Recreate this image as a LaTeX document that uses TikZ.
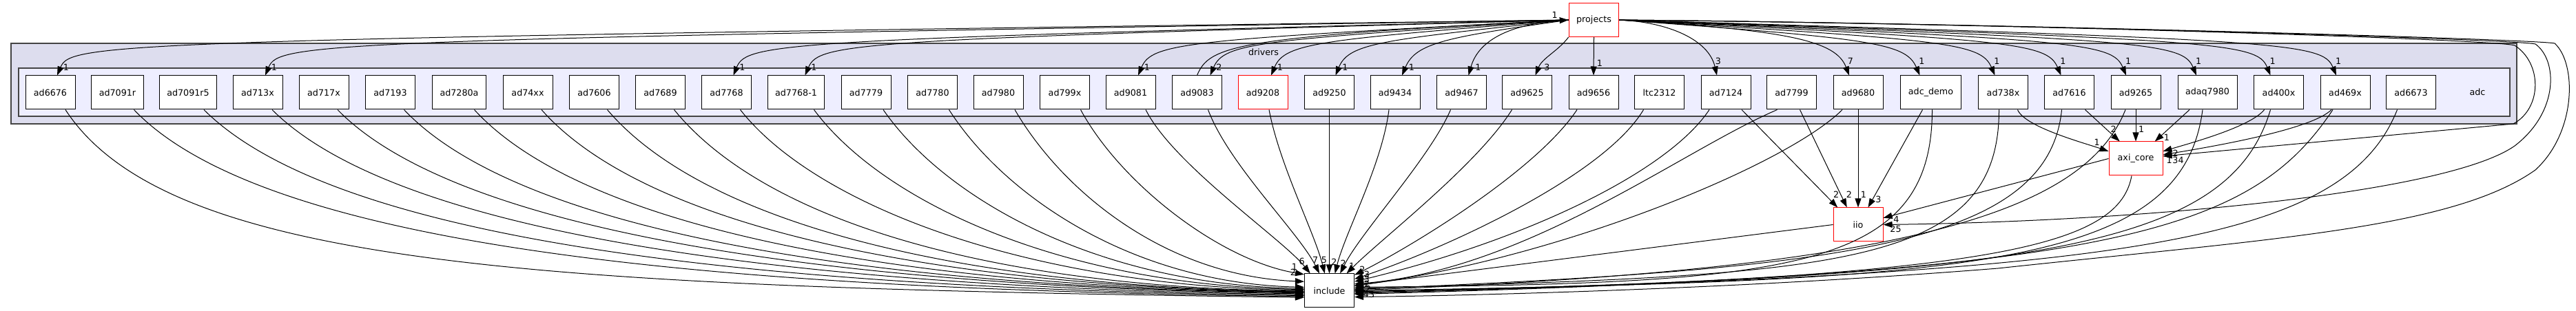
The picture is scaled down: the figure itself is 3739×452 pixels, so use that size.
\documentclass[tikz,border=0pt]{standalone}
\usepackage{fontspec}
\setmainfont{DejaVu Sans}
\usetikzlibrary{arrows.meta}
\definecolor{drvfill}{HTML}{DDDDEE}
\definecolor{adcfill}{HTML}{EEEEFF}
\definecolor{clborder}{HTML}{444444}

\begin{document}
\begin{tikzpicture}[x=1pt,y=1pt,
    dir/.style={draw=black,fill=white,line width=1pt,minimum width=72pt,minimum height=49pt,inner xsep=11pt,font=\fontsize{12.7}{15}\selectfont},
    reddir/.style={dir,draw=red},
    dep/.style={-{Triangle[length=13pt,width=9pt]},line width=1pt},
    lbl/.style={inner sep=0pt,font=\fontsize{12.7}{15}\selectfont}]
\useasboundingbox (0,0) rectangle (3739,452);

% 绘制目录框
\filldraw[fill=drvfill,draw=clborder,line width=1.6pt] (16,272) rectangle (3653,389);
\node[lbl] (drvlabel) at (1834,376) {drivers};
\filldraw[fill=adcfill,draw=clborder,line width=1.6pt] (27,283) rectangle (3643,353);
\node[lbl] (adclabel) at (3596,318) {adc};

% 子目录
\node[dir] (ad6676) at (73,317.5) {ad6676};
\node[dir] (ad7091r) at (170.5,317.5) {ad7091r};
\node[dir] (ad7091r5) at (273,317.5) {ad7091r5};
\node[dir] (ad713x) at (374,317.5) {ad713x};
\node[dir] (ad717x) at (470,317.5) {ad717x};
\node[dir] (ad7193) at (566.5,317.5) {ad7193};
\node[dir] (ad7280a) at (666.5,317.5) {ad7280a};
\node[dir] (ad74xx) at (766,317.5) {ad74xx};
\node[dir] (ad7606) at (862.5,317.5) {ad7606};
\node[dir] (ad7689) at (958.5,317.5) {ad7689};
\node[dir] (ad7768) at (1054.5,317.5) {ad7768};
\node[dir] (ad7768-1) at (1155.5,317.5) {ad7768-1};
\node[dir] (ad7779) at (1257,317.5) {ad7779};
\node[dir] (ad7780) at (1353.5,317.5) {ad7780};
\node[dir] (ad7980) at (1449,317.5) {ad7980};
\node[dir] (ad799x) at (1545.5,317.5) {ad799x};
\node[dir] (ad9081) at (1641,317.5) {ad9081};
\node[dir] (ad9083) at (1737.5,317.5) {ad9083};
\node[reddir] (ad9208) at (1833,317.5) {ad9208};
\node[dir] (ad9250) at (1929.5,317.5) {ad9250};
\node[dir] (ad9434) at (2025,317.5) {ad9434};
\node[dir] (ad9467) at (2121.5,317.5) {ad9467};
\node[dir] (ad9625) at (2216.5,317.5) {ad9625};
\node[dir] (ad9656) at (2313,317.5) {ad9656};
\node[dir] (ltc2312) at (2408.5,317.5) {ltc2312};
\node[dir] (ad7124) at (2505,317.5) {ad7124};
\node[dir] (ad7799) at (2600.5,317.5) {ad7799};
\node[dir] (ad9680) at (2697,317.5) {ad9680};
\node[dir] (adc_demo) at (2802.5,317.5) {adc\_demo};
\node[dir] (ad738x) at (2907.5,317.5) {ad738x};
\node[dir] (ad7616) at (3003.5,317.5) {ad7616};
\node[dir] (ad9265) at (3100,317.5) {ad9265};
\node[dir] (adaq7980) at (3204,317.5) {adaq7980};
\node[dir] (ad400x) at (3307.5,317.5) {ad400x};
\node[dir] (ad469x) at (3404,317.5) {ad469x};
\node[dir] (ad6673) at (3499.5,317.5) {ad6673};

% 外部目录
\node[reddir] (projects) at (2313.5,423) {projects};
\node[dir] (include) at (1929.5,29.5) {include};
\node[reddir] (iio) at (2697,125.5) {iio};
\node[reddir,minimum width=78pt] (axi_core) at (3100,221.5) {axi\_core};

% projects -> 子目录
\draw[dep] (projects.west) .. controls (153,394) and (103,390) .. ([xshift=10pt]ad6676.north) node[lbl,xshift=13pt,yshift=12pt] {1};
\draw[dep] (projects.west) .. controls (455,394) and (405,390) .. ([xshift=11pt]ad713x.north) node[lbl,xshift=13pt,yshift=12pt] {1};
\draw[dep] (projects.west) .. controls (1134,394) and (1084,390) .. ([xshift=10pt]ad7768.north) node[lbl,xshift=13pt,yshift=12pt] {1};
\draw[dep] (projects.west) .. controls (1239,394) and (1189,390) .. ([xshift=13pt]ad7768-1.north) node[lbl,xshift=13pt,yshift=12pt] {1};
\draw[dep] (projects.west) .. controls (1722,394) and (1672,390) .. ([xshift=11pt]ad9081.north) node[lbl,xshift=13pt,yshift=12pt] {1};
\draw[dep] (projects.west) .. controls (1827,394) and (1777,390) .. ([xshift=19pt]ad9083.north) node[lbl,xshift=13pt,yshift=12pt] {2};
\draw[dep] (projects.west) .. controls (1915,394) and (1865,390) .. ([xshift=12pt]ad9208.north) node[lbl,xshift=13pt,yshift=12pt] {1};
\draw[dep] (projects.west) .. controls (2008,394) and (1958,390) .. ([xshift=9pt]ad9250.north) node[lbl,xshift=14pt,yshift=12pt] {1};
\draw[dep] (projects.west) .. controls (2100,398) and (2055,390) .. ([xshift=10pt]ad9434.north) node[lbl,xshift=14pt,yshift=12pt] {1};
\draw[dep] (projects.west) .. controls (2185,418) and (2145,390) .. ([xshift=10pt]ad9467.north) node[lbl,xshift=14pt,yshift=12pt] {1};
\draw[dep] (projects.south west) .. controls +(-15,-20) and +(10,25) .. ([xshift=12pt]ad9625.north) node[lbl,xshift=17pt,yshift=12pt] {3};
\draw[dep] (projects.south) -- (ad9656.north) node[lbl,xshift=9pt,yshift=18pt] {1};
\draw[dep] (projects.east) .. controls (2420,420) and (2480,395) .. ([xshift=-13pt]ad7124.north) node[lbl,xshift=2pt,yshift=21pt] {3};
\draw[dep] (projects.east) .. controls (2600,408) and (2665,392) .. ([xshift=-13pt]ad9680.north) node[lbl,xshift=2pt,yshift=21pt] {7};
\draw[dep] (projects.east) .. controls (2716,396) and (2766,390) .. ([xshift=-16pt]adc_demo.north) node[lbl,xshift=3pt,yshift=21pt] {1};
\draw[dep] (projects.east) .. controls (2825,394) and (2875,390) .. ([xshift=-12pt]ad738x.north) node[lbl,xshift=3pt,yshift=21pt] {1};
\draw[dep] (projects.east) .. controls (2921,394) and (2971,390) .. ([xshift=-12pt]ad7616.north) node[lbl,xshift=3pt,yshift=21pt] {1};
\draw[dep] (projects.east) .. controls (3016,394) and (3066,390) .. ([xshift=-14pt]ad9265.north) node[lbl,xshift=3pt,yshift=21pt] {1};
\draw[dep] (projects.east) .. controls (3118,394) and (3168,390) .. ([xshift=-16pt]adaq7980.north) node[lbl,xshift=3pt,yshift=21pt] {1};
\draw[dep] (projects.east) .. controls (3226,394) and (3276,390) .. ([xshift=-12pt]ad400x.north) node[lbl,xshift=3pt,yshift=21pt] {1};
\draw[dep] (projects.east) .. controls (3321,394) and (3371,390) .. ([xshift=-13pt]ad469x.north) node[lbl,xshift=3pt,yshift=21pt] {1};
\draw[dep] (ad9083.north) .. controls +(18,43) and +(-486,-25) .. (projects.west) node[lbl,xshift=-20pt,yshift=7pt] {1};

% projects -> axi_core, iio, include
\draw[dep] (projects.east) .. controls (2900,418) and (3620,395) .. (3650,386) .. controls (3690,360) and (3690,295) .. (3648,272) -- (axi_core.5) node[lbl,xshift=22pt,yshift=-6pt] {34};
\draw[dep] (projects.east) .. controls (2900,418) and (3650,395) .. (3680,388) .. controls (3712,365) and (3715,290) .. (3650,240) .. controls (3550,170) and (3100,130) .. (iio.east) node[lbl,xshift=18pt,yshift=-6pt] {25};
\draw[dep] (projects.east) .. controls (2900,418) and (3680,395) .. (3708,389) .. controls (3740,360) and (3740,260) .. (3680,205) .. controls (3560,120) and (3300,105) .. (2900,62) .. controls (2500,30) and (2100,22) .. (include.-14) node[lbl,xshift=17pt,yshift=4pt] {243};

% 子目录 -> include
\draw[dep] ([xshift=22pt]ad6676.south) .. controls +(150,-230) and +(-1100,15) .. (include.195);
\draw[dep] ([xshift=24pt]ad7091r.south) .. controls +(200,-210) and +(-800,10) .. (include.193);
\draw[dep] ([xshift=23pt]ad7091r5.south) .. controls +(200,-200) and +(-750,10) .. (include.191);
\draw[dep] ([xshift=21pt]ad713x.south) .. controls +(190,-190) and +(-700,10) .. (include.189);
\draw[dep] ([xshift=20pt]ad717x.south) .. controls +(180,-185) and +(-650,10) .. (include.187);
\draw[dep] ([xshift=20pt]ad7193.south) .. controls +(170,-180) and +(-620,8) .. (include.185);
\draw[dep] ([xshift=22pt]ad7280a.south) .. controls +(160,-175) and +(-580,8) .. (include.184);
\draw[dep] ([xshift=20pt]ad74xx.south) .. controls +(150,-170) and +(-540,8) .. (include.183);
\draw[dep] ([xshift=19pt]ad7606.south) .. controls +(140,-165) and +(-500,6) .. (include.182);
\draw[dep] ([xshift=20pt]ad7689.south) .. controls +(130,-160) and +(-460,6) .. (include.181);
\draw[dep] ([xshift=20pt]ad7768.south) .. controls +(110,-140) and +(-400,6) .. (include.179);
\draw[dep] ([xshift=26pt]ad7768-1.south) .. controls +(100,-135) and +(-350,6) .. (include.177);
\draw[dep] ([xshift=25pt]ad7779.south) .. controls +(90,-130) and +(-300,6) .. (include.175);
\draw[dep] ([xshift=24pt]ad7780.south) .. controls +(80,-125) and +(-250,6) .. (include.172);
\draw[dep] ([xshift=24pt]ad7980.south) .. controls +(70,-120) and +(-200,8) .. (include.160) node[lbl,xshift=-16pt,yshift=13pt] {2};
\draw[dep] ([xshift=23pt]ad799x.south) .. controls +(60,-110) and +(-120,20) .. (include.147) node[lbl,xshift=-14pt,yshift=11pt] {1};
\draw[dep] ([xshift=22pt]ad9081.south) .. controls +(40,-80) and +(-40,50) .. (include.138) node[lbl,xshift=-12pt,yshift=18pt] {6};
\draw[dep] ([xshift=16pt]ad9083.south) .. controls +(30,-80) and +(-30,60) .. (include.120) node[lbl,xshift=-6pt,yshift=20pt] {7};
\draw[dep] ([xshift=9pt]ad9208.south) .. controls +(15,-80) and +(-15,60) .. (include.105) node[lbl,xshift=-1pt,yshift=20pt] {5};
\draw[dep] (ad9250.south) -- (include.north) node[lbl,xshift=7pt,yshift=17pt] {2};
\draw[dep] ([xshift=-9pt]ad9434.south) .. controls +(-10,-80) and +(15,60) .. (include.72) node[lbl,xshift=12pt,yshift=15pt] {2};
\draw[dep] ([xshift=-16pt]ad9467.south) .. controls +(-30,-70) and +(30,60) .. (include.58) node[lbl,xshift=17pt,yshift=11pt] {1};
\draw[dep] ([xshift=-22pt]ad9625.south) .. controls +(-50,-80) and +(50,50) .. (include.45) node[lbl,xshift=23pt,yshift=6pt] {2};
\draw[dep] ([xshift=-24pt]ad9656.south) .. controls +(-60,-90) and +(80,40) .. (include.32) node[lbl,xshift=18pt,yshift=1pt] {3};
\draw[dep] ([xshift=-23pt]ltc2312.south) .. controls +(-60,-100) and +(120,40) .. (include.25) node[lbl,xshift=18pt,yshift=0pt] {3};
\draw[dep] ([xshift=-24pt]ad7124.south) .. controls +(-60,-90) and +(250,60) .. (include.20) node[lbl,xshift=18pt,yshift=-4pt] {2};
\draw[dep] ([xshift=-21pt]ad7799.south) .. controls +(-140,-60) and +(250,20) .. (include.15) node[lbl,xshift=20pt,yshift=-7pt] {2};
\draw[dep] ([xshift=-23pt]ad9680.south) .. controls +(-80,-80) and +(300,40) .. (include.11);
\draw[dep] ([xshift=2pt]adc_demo.south) .. controls +(0,-233) and +(634,5) .. (include.8);
\draw[dep] ([xshift=-6pt]ad738x.south) .. controls +(0,-230) and +(700,20) .. (include.5);
\draw[dep] ([xshift=-11pt]ad7616.south) .. controls +(-20,-200) and +(700,30) .. (include.3);
\draw[dep] ([xshift=-15pt]ad9265.south) .. controls +(-60,-150) and +(800,30) .. (include.1);
\draw[dep] ([xshift=-7pt]adaq7980.south) .. controls +(-30,-230) and +(900,15) .. (include.east);
\draw[dep] ([xshift=-12pt]ad400x.south) .. controls +(-60,-200) and +(1000,20) .. (include.-2);
\draw[dep] ([xshift=-18pt]ad469x.south) .. controls +(-120,-180) and +(1100,25) .. (include.-4);
\draw[dep] ([xshift=-20pt]ad6673.south) .. controls +(-80,-200) and +(1100,30) .. (include.-6);
\draw[dep] ([xshift=-6pt]axi_core.south) .. controls +(-20,-110) and +(900,25) .. (include.-8);
\draw[dep] (iio.west) -- (include.12);

% 子目录 -> iio
\draw[dep] ([xshift=23pt]ad7124.south) -- (iio.140) node[lbl,xshift=-2pt,yshift=19pt] {2};
\draw[dep] ([xshift=12pt]ad7799.south) -- (iio.123) node[lbl,xshift=3pt,yshift=19pt] {2};
\draw[dep] (ad9680.south) -- (iio.north) node[lbl,xshift=8pt,yshift=19pt] {1};
\draw[dep] ([xshift=-12pt]adc_demo.south) -- (iio.60) node[lbl,xshift=15pt,yshift=12pt] {3};
\draw[dep] (axi_core.west) -- (iio.15) node[lbl,xshift=19pt,yshift=-2pt] {4};

% 子目录 -> axi_core
\draw[dep] ([xshift=21pt]ad738x.south) .. controls +(10,-25) and +(-35,12) .. (axi_core.165) node[lbl,xshift=-17pt,yshift=13pt] {1};
\draw[dep] ([xshift=23pt]ad7616.south) -- (axi_core.133) node[lbl,xshift=-9pt,yshift=18pt] {2};
\draw[dep] (ad9265.south) -- (axi_core.north) node[lbl,xshift=8pt,yshift=18pt] {1};
\draw[dep] ([xshift=-26pt]adaq7980.south) -- (axi_core.42) node[lbl,xshift=17pt,yshift=6pt] {1};
\draw[dep] ([xshift=-21pt]ad400x.south) .. controls +(-20,-25) and +(40,12) .. (axi_core.15) node[lbl,xshift=18pt,yshift=-3pt] {2};
\draw[dep] ([xshift=-20pt]ad469x.south) .. controls +(-30,-30) and +(60,10) .. (axi_core.8) node[lbl,xshift=9pt,yshift=-8pt] {1};

\end{tikzpicture}
\end{document}
